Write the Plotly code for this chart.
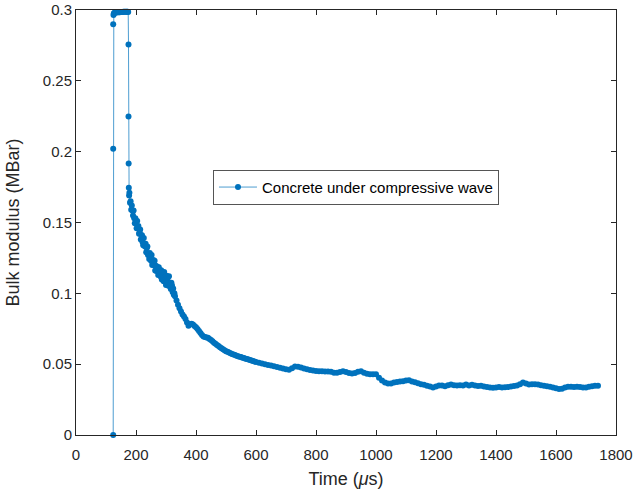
import plotly.graph_objects as go

# ── Datos ───────────────────────────────────────────────────────
# Subida inicial y meseta
t_rise = [124, 124, 124, 125, 126, 128, 131, 134, 137, 140, 143, 146, 149, 152,
          155, 158, 161, 164, 167, 170, 172, 174, 175, 175, 175.5, 176, 177]
k_rise = [0.0, 0.202, 0.290, 0.2965, 0.2975, 0.2980, 0.2982, 0.2983, 0.2984,
          0.2984, 0.2985, 0.2985, 0.2986, 0.2986, 0.2986, 0.2987, 0.2987, 0.2987,
          0.2988, 0.2988, 0.2988, 0.2986, 0.2756, 0.2248, 0.1917, 0.1745, 0.1690]

# Tramo ruidoso (cada 2 µs)
t_noisy = [178, 180, 182, 184, 186, 188, 190, 192, 194, 196, 198, 200, 202, 204,
           206, 208, 210, 212, 214, 216, 218, 220, 222, 224, 226, 228, 230, 232,
           234, 236, 238, 240, 242, 244, 246, 248, 250, 252, 254, 256, 258, 260,
           262, 264, 266, 268, 270, 272, 274, 276, 278, 280, 282, 284, 286, 288,
           290, 292, 294, 296, 298, 300, 302, 304, 306, 308, 310, 312, 314, 316,
           318, 320, 322, 324, 326, 328, 330]
k_noisy = [0.1710, 0.1640, 0.1650, 0.1590, 0.1620, 0.1585, 0.1550, 0.1585, 0.1530,
           0.1495, 0.1530, 0.1510, 0.1460, 0.1510, 0.1460, 0.1475, 0.1420, 0.1430,
           0.1450, 0.1380, 0.1410, 0.1410, 0.1360, 0.1340, 0.1390, 0.1350, 0.1330,
           0.1350, 0.1290, 0.1320, 0.1330, 0.1270, 0.1280, 0.1242, 0.1285, 0.1268,
           0.1230, 0.1270, 0.1200, 0.1222, 0.1235, 0.1198, 0.1230, 0.1162, 0.1195,
           0.1158, 0.1190, 0.1165, 0.1130, 0.1184, 0.1138, 0.1153, 0.1118, 0.1163,
           0.1098, 0.1144, 0.1120, 0.1085, 0.1150, 0.1085, 0.1110, 0.1058, 0.1125,
           0.1082, 0.1108, 0.1054, 0.1120, 0.1052, 0.1065, 0.1030, 0.1075, 0.1055,
           0.1010, 0.1035, 0.0990, 0.1000, 0.0980]

# Decaimiento rápido (cada 5 µs)
t_fall = [335, 340, 345, 350, 355, 360, 365, 370, 375, 380, 385, 390, 395, 400,
          405, 410, 415, 420, 425, 430, 435, 440, 445, 450, 455, 460, 465, 470,
          475, 480, 485, 490, 495, 500, 505, 510, 515, 520, 525, 530, 535, 540,
          545, 550, 555, 560, 565, 570, 575, 580, 585, 590, 595, 600]
k_fall = [0.0950, 0.0920, 0.0895, 0.0872, 0.0850, 0.0836, 0.0818, 0.0795, 0.0772,
          0.0782, 0.0785, 0.0780, 0.0770, 0.0760, 0.0748, 0.0735, 0.0720, 0.0706,
          0.0696, 0.0692, 0.0689, 0.0686, 0.0678, 0.0670, 0.0661, 0.0652, 0.0644,
          0.0636, 0.0628, 0.0620, 0.0612, 0.0605, 0.0598, 0.0592, 0.0587, 0.0582,
          0.0577, 0.0572, 0.0568, 0.0564, 0.0560, 0.0556, 0.0553, 0.0550, 0.0546,
          0.0543, 0.0539, 0.0536, 0.0533, 0.0530, 0.0526, 0.0522, 0.0519, 0.0516]

# Cola (cada 10 µs)
t_tail = [610, 620, 630, 640, 650, 660, 670, 680, 690, 700, 710, 720, 730, 740,
          750, 760, 770, 780, 790, 800, 810, 820, 830, 840, 850, 860, 870, 880,
          890, 900, 910, 920, 930, 940, 950, 960, 970, 980, 990, 1000, 1010,
          1020, 1030, 1040, 1050, 1060, 1070, 1080, 1090, 1100, 1110, 1120,
          1130, 1140, 1150, 1160, 1170, 1180, 1190, 1200, 1210, 1220, 1230,
          1240, 1250, 1260, 1270, 1280, 1290, 1300, 1310, 1320, 1330, 1340,
          1350, 1360, 1370, 1380, 1390, 1400, 1410, 1420, 1430, 1440, 1450,
          1460, 1470, 1480, 1490, 1500, 1510, 1520, 1530, 1540, 1550, 1560,
          1570, 1580, 1590, 1600, 1610, 1620, 1630, 1640, 1650, 1660, 1670,
          1680, 1690, 1700, 1710, 1720, 1730, 1740]
k_tail = [0.0510, 0.0505, 0.0500, 0.0495, 0.0490, 0.0485, 0.0480, 0.0475,
          0.0470, 0.0464, 0.0460, 0.0472, 0.0484, 0.0482, 0.0476, 0.0470, 0.0464,
          0.0458, 0.0455, 0.0452, 0.0450, 0.0450, 0.0449, 0.0449, 0.0446, 0.0440,
          0.0440, 0.0445, 0.0450, 0.0445, 0.0438, 0.0434, 0.0438, 0.0447, 0.0450,
          0.0440, 0.0432, 0.0428, 0.0428, 0.0428, 0.0405, 0.0385, 0.0370, 0.0363,
          0.0364, 0.0370, 0.0375, 0.0378, 0.0380, 0.0384, 0.0386, 0.0378, 0.0372,
          0.0365, 0.0358, 0.0354, 0.0348, 0.0343, 0.0336, 0.0342, 0.0350, 0.0350,
          0.0345, 0.0352, 0.0356, 0.0352, 0.0350, 0.0352, 0.0350, 0.0356, 0.0350,
          0.0354, 0.0350, 0.0346, 0.0348, 0.0342, 0.0338, 0.0336, 0.0333, 0.0335,
          0.0338, 0.0336, 0.0337, 0.0338, 0.0342, 0.0346, 0.0350, 0.0358, 0.0370,
          0.0364, 0.0356, 0.0358, 0.0358, 0.0356, 0.0352, 0.0348, 0.0344, 0.0340,
          0.0336, 0.0330, 0.0324, 0.0326, 0.0336, 0.0340, 0.0340, 0.0338, 0.0340,
          0.0338, 0.0336, 0.0336, 0.0340, 0.0345, 0.0348, 0.0348]

x_ticks = [0, 200, 400, 600, 800, 1000, 1200, 1400, 1600, 1800]
y_ticks = [0, 0.05, 0.1, 0.15, 0.2, 0.25, 0.3]
y_labels = ["0", "0.05", "0.1", "0.15", "0.2", "0.25", "0.3"]

_BLUE = "#0072BD"
_AXIS = "#262626"
_FONT = "Liberation Sans, Arial, sans-serif"

time_us = t_rise + t_noisy + t_fall + t_tail
bulk_mbar = k_rise + k_noisy + k_fall + k_tail

fig = go.Figure()
fig.add_trace(go.Scatter(
    x=time_us,
    y=bulk_mbar,
    mode="lines+markers",
    name="Concrete under compressive wave",
    line=dict(color=_BLUE, width=0.7),
    marker=dict(color=_BLUE, size=6),
    cliponaxis=False,
))

_axis = dict(
    showline=True,
    linecolor=_AXIS,
    linewidth=1,
    mirror="ticks",
    ticks="inside",
    ticklen=5,
    tickcolor=_AXIS,
    showgrid=False,
    zeroline=False,
    tickfont=dict(size=15, color=_AXIS, family=_FONT),
)

fig.update_layout(
    width=643,
    height=490,
    paper_bgcolor="white",
    plot_bgcolor="white",
    margin=dict(l=76, r=27, t=10, b=54.5, autoexpand=False),
    showlegend=True,
    legend=dict(
        x=0.2537, y=0.624, xanchor="left", yanchor="top",
        bgcolor="white", bordercolor="#555555", borderwidth=1,
        font=dict(size=15, color="black", family=_FONT),
        itemwidth=38,
    ),
    xaxis=dict(
        range=[0, 1800], tickvals=x_ticks, ticklabelstandoff=6,
        title=dict(text="Time (<i>μ</i>s)", font=dict(size=18, color=_AXIS, family=_FONT), standoff=10),
        **_axis,
    ),
    yaxis=dict(
        range=[0, 0.3], tickvals=y_ticks, ticktext=y_labels,
        title=dict(text="Bulk modulus (MBar)", font=dict(size=18, color=_AXIS, family=_FONT), standoff=18),
        **_axis,
    ),
)

# quitar el margen por defecto del <body>
fig.write_html(
    "out.html",
    config={"displayModeBar": False},
    post_script="document.body.style.margin='0';",
)
